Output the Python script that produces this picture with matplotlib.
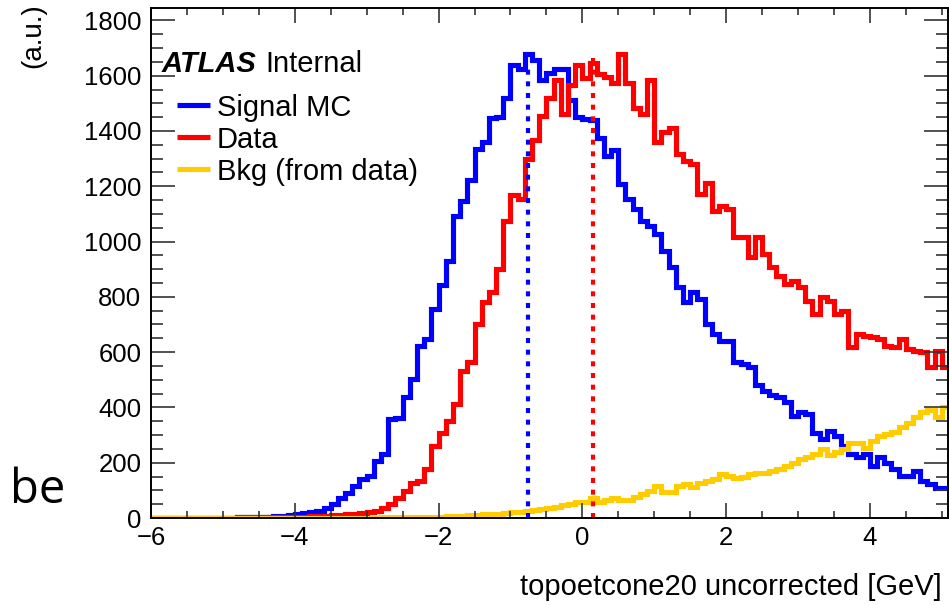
import numpy as np
import matplotlib
matplotlib.use("Agg")
import matplotlib.pyplot as plt
import matplotlib.ticker as ticker

plt.rcParams["font.family"] = ["Liberation Sans", "DejaVu Sans"]

# binning of the histograms (0.1 GeV bins from -6 to 5.1)
X_LO, X_HI, N_BINS = -6.0, 5.1, 111

# bin contents, one value per 0.1 GeV bin starting at -6
signal_mc = [
    0, 0, 0, 0, 0, 0, 0, 0, 0, 0, 1, 1, 2, 2, 3, 4, 5, 6, 8, 10,
    15, 18, 22, 25, 36, 52, 73, 91, 116, 140, 152, 206, 230, 357, 363, 436, 502, 623, 647, 755,
    843, 931, 1094, 1148, 1223, 1336, 1360, 1447, 1450, 1520, 1640, 1625, 1680, 1656, 1583, 1610, 1624, 1624, 1512, 1452,
    1445, 1438, 1375, 1311, 1330, 1209, 1155, 1118, 1076, 1058, 1028, 967, 907, 834, 780, 816, 792, 702, 665, 641,
    641, 566, 556, 548, 480, 460, 445, 436, 418, 370, 382, 376, 309, 285, 315, 297, 261, 231, 219, 231,
    188, 219, 200, 176, 152, 152, 170, 134, 122, 110, 110,
]
data = [
    0, 0, 0, 0, 0, 0, 1, 1, 1, 1, 1, 1, 2, 2, 2, 2, 3, 3, 3, 3,
    4, 5, 6, 7, 8, 10, 12, 13, 15, 18, 20, 25, 37, 50, 73, 97, 127, 133, 178, 262,
    309, 351, 412, 533, 563, 702, 780, 816, 901, 1076, 1167, 1155, 1300, 1366, 1455, 1520, 1585, 1460, 1565, 1638,
    1592, 1647, 1608, 1595, 1574, 1680, 1574, 1484, 1463, 1583, 1360, 1395, 1410, 1318, 1293, 1279, 1173, 1212, 1110, 1130,
    1118, 1016, 1016, 943, 1016, 955, 907, 877, 847, 859, 834, 786, 738, 798, 786, 738, 750, 617, 665, 659,
    653, 647, 623, 617, 647, 611, 605, 599, 545, 605, 545,
]
bkg_from_data = [
    0, 0, 0, 0, 0, 0, 0, 0, 0, 0, 0, 0, 0, 0, 0, 0, 0, 0, 0, 0,
    0, 0, 0, 0, 0, 0, 0, 0, 0, 0, 1, 1, 2, 2, 2, 3, 3, 4, 4, 5,
    5, 6, 7, 8, 10, 12, 13, 15, 16, 18, 20, 22, 27, 28, 33, 37, 40, 46, 52, 57,
    58, 74, 58, 64, 72, 66, 64, 75, 86, 98, 116, 95, 95, 116, 122, 112, 128, 134, 140, 158,
    152, 146, 150, 158, 164, 164, 170, 176, 188, 200, 213, 219, 231, 249, 228, 237, 249, 270, 270, 252,
    278, 297, 303, 312, 330, 345, 365, 385, 390, 365, 400,
]

# dotted markers (position, height)
signal_peak = -0.75
signal_peak_height = 1630
data_peak = 0.15
data_peak_height = 1680

labels = ["Signal MC", "Data", "Bkg (from data)"]
colors = ["#0000ff", "#ff0000", "#ffcc00"]


def draw():
    fig = plt.figure(figsize=(9.49, 6.05), dpi=100)
    ax = fig.add_axes([0.1591, 0.1438, 0.8394, 0.843])

    edges = np.linspace(X_LO, X_HI, N_BINS + 1)
    for vals, col in zip([signal_mc, data, bkg_from_data], colors):
        ax.stairs(vals, edges, color=col, lw=3.7, baseline=None,
                  joinstyle="miter", capstyle="butt")

    ax.vlines(signal_peak, 0, signal_peak_height, colors=colors[0], lw=3,
              linestyles=(0, (1.2, 1.6)))
    ax.vlines(data_peak, 0, data_peak_height, colors=colors[1], lw=3,
              linestyles=(0, (1.2, 1.6)))

    ax.set_xlim(-6, 5.08)
    ax.set_ylim(0, 1845)

    ax.xaxis.set_major_locator(ticker.MultipleLocator(2))
    ax.xaxis.set_minor_locator(ticker.MultipleLocator(0.5))
    ax.yaxis.set_major_locator(ticker.MultipleLocator(200))
    ax.yaxis.set_minor_locator(ticker.MultipleLocator(50))
    ax.tick_params(which="both", direction="in", top=True, right=True,
                   width=1.2, color="#333333", labelsize=18.5)
    ax.tick_params(axis="y", which="major", length=17, pad=7)
    ax.tick_params(axis="y", which="minor", length=8.6)
    ax.tick_params(axis="x", which="major", length=10.8, pad=6)
    ax.tick_params(axis="x", which="minor", length=5)
    for s in ax.spines.values():
        s.set_linewidth(1.4)

    ax.set_xlabel("topoetcone20 uncorrected [GeV]", fontsize=21, loc="right")
    ax.xaxis.set_label_coords(0.993, -0.108)
    ax.set_ylabel("(a.u.)", fontsize=20, loc="top")
    ax.yaxis.set_label_coords(-0.131, 1.01)

    # ATLAS label + legend
    atlas = ax.text(0.0138, 0.8745, "ATLAS", transform=ax.transAxes,
                    fontsize=21, fontweight="bold", fontstyle="italic",
                    va="baseline")
    ax.annotate("Internal", xy=(1, 0), xycoords=atlas, xytext=(6, 0),
                textcoords="offset points", fontsize=21, va="bottom")
    rows = [0.8098, 0.747, 0.6843]
    for lab, col, y in zip(labels, colors, rows):
        ax.plot([0.0326, 0.0741], [y, y], color=col, lw=3.7,
                transform=ax.transAxes, solid_capstyle="butt")
        ax.text(0.0829, y, lab, transform=ax.transAxes, fontsize=21,
                va="center_baseline")

    fig.text(10 / 949, 1 - 503 / 605, "be", fontsize=34,
             family=["Open Sans", "DejaVu Sans"], va="baseline")

    fig.savefig("out.png", dpi=100)


if __name__ == "__main__":
    draw()
